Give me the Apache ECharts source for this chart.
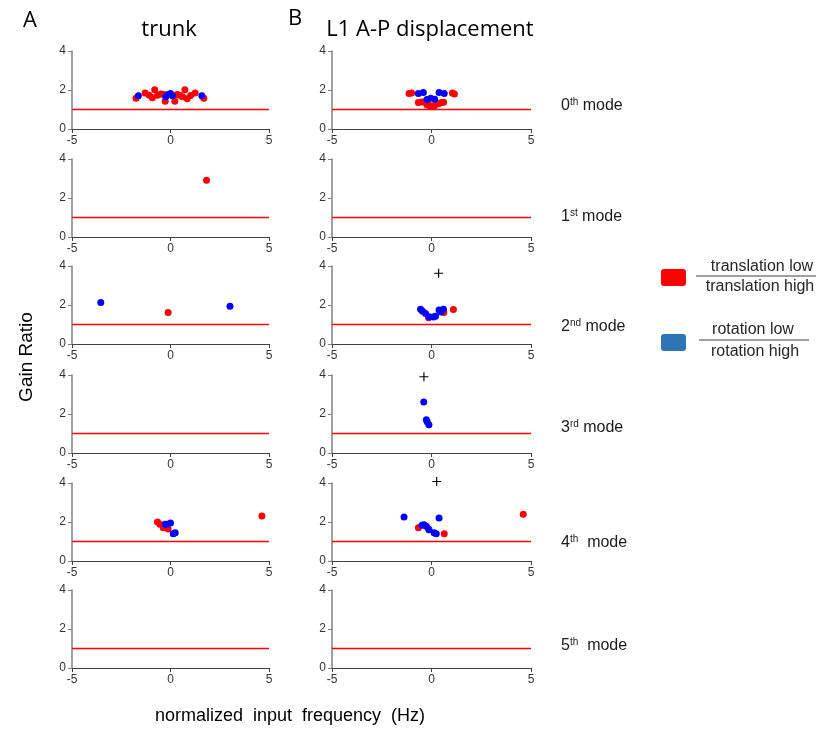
<!DOCTYPE html>
<html>
<head>
<meta charset="utf-8">
<script src="https://cdn.jsdelivr.net/npm/echarts@6/dist/echarts.min.js"></script>
<style>html,body{margin:0;padding:0;background:#fff}#c{width:819px;height:730px}</style>
</head>
<body>
<div id="c"></div>
<script>
// ---- data ----
const xTicks = [-5, 0, 5];
const yTicks = [0, 2, 4];
const refLine = [[-5, 1], [5, 1]];
const modeNames = ['0', '1', '2', '3', '4', '5'];
const modeSup = ['th', 'st', 'nd', 'rd', 'th', 'th'];
const columnTitles = ['trunk', 'L1 A-P displacement'];

// trunk (column A)
const trunk0Red = [[-1.75,1.58],[-1.29,1.85],[-1.08,1.73],[-0.92,1.60],[-0.80,2.01],[-0.66,1.73],[-0.49,1.79],[-0.34,1.77],[-0.27,1.42],[0.22,1.42],[0.34,1.77],[0.47,1.73],[0.61,1.65],[0.73,2.01],[0.85,1.55],[1.02,1.72],[1.25,1.85],[1.69,1.58]];
const trunk0Blue = [[-1.63,1.70],[-0.24,1.65],[-0.12,1.77],[0.0,1.82],[0.10,1.70],[1.59,1.70]];
const trunk1Red = [[1.83,2.91]];
const trunk1Blue = [];
const trunk2Red = [[-0.12,1.62]];
const trunk2Blue = [[-3.54,2.13],[3.02,1.94]];
const trunk3Red = [];
const trunk3Blue = [];
const trunk4Red = [[-0.66,2.0],[-0.54,1.88],[-0.37,1.71],[-0.12,1.64],[4.64,2.31]];
const trunk4Blue = [[-0.27,1.88],[-0.17,1.88],[0.0,1.95],[0.14,1.40],[0.24,1.45]];
const trunk5Red = [];
const trunk5Blue = [];

// L1 A-P displacement (column B)
const l1Mode0Red = [[-1.13,1.82],[-1.0,1.85],[-0.66,1.36],[-0.50,1.38],[-0.36,1.39],[-0.23,1.25],[-0.10,1.20],[-0.04,1.18],[0.10,1.18],[0.16,1.20],[0.36,1.30],[0.50,1.36],[0.61,1.37],[1.05,1.85],[1.15,1.80]];
const l1Mode0Blue = [[-0.66,1.82],[-0.41,1.87],[-0.23,1.51],[-0.04,1.58],[0.16,1.53],[0.38,1.87],[0.64,1.82]];
const l1Mode1Red = [];
const l1Mode1Blue = [];
const l1Mode2Red = [[-0.15,1.35],[0.62,1.62],[1.10,1.77]];
const l1Mode2Blue = [[-0.55,1.78],[-0.45,1.68],[-0.30,1.57],[-0.12,1.40],[0.10,1.39],[0.20,1.42],[0.38,1.75],[0.60,1.78],[0.48,1.64]];
const l1Mode2Plus = [[0.36,3.63]];
const l1Mode3Blue = [[-0.39,2.61],[-0.26,1.71],[-0.21,1.59],[-0.13,1.45]];
const l1Mode3Plus = [[-0.38,3.91]];
const l1Mode4Red = [[-0.66,1.71],[-0.14,1.64],[0.64,1.40],[4.61,2.40]];
const l1Mode4Blue = [[-1.38,2.26],[-0.48,1.83],[-0.38,1.86],[-0.26,1.78],[-0.13,1.60],[0.13,1.45],[0.24,1.40],[0.38,2.21]];
const l1Mode4Plus = [[0.26,4.08]];
const l1Mode5Red = [];
const l1Mode5Blue = [];

const panels = [
  [ {red: trunk0Red, blue: trunk0Blue, plus: []},
    {red: trunk1Red, blue: trunk1Blue, plus: []},
    {red: trunk2Red, blue: trunk2Blue, plus: []},
    {red: trunk3Red, blue: trunk3Blue, plus: []},
    {red: trunk4Red, blue: trunk4Blue, plus: []},
    {red: trunk5Red, blue: trunk5Blue, plus: []} ],
  [ {red: l1Mode0Red, blue: l1Mode0Blue, plus: []},
    {red: l1Mode1Red, blue: l1Mode1Blue, plus: []},
    {red: l1Mode2Red, blue: l1Mode2Blue, plus: l1Mode2Plus},
    {red: [], blue: l1Mode3Blue, plus: l1Mode3Plus},
    {red: l1Mode4Red, blue: l1Mode4Blue, plus: l1Mode4Plus},
    {red: l1Mode5Red, blue: l1Mode5Blue, plus: []} ]
];

// ---- layout ----
const rowTop = [51, 159, 266, 375, 483, 590];
const rowH = 78;
const colLeft = [72, 332];
const colW = [197, 199];
const modeLabelY = [106, 217, 327, 428, 543, 646];

const TICK_FONT = 'Liberation Sans';
const PLUS = 'path://M3.5,0h1v8h-1z M0,3.5h8v1h-8z';

const grid = [], xAxis = [], yAxis = [], series = [];
let gi = 0;
for (let c = 0; c < 2; c++) {
  for (let r = 0; r < 6; r++) {
    grid.push({left: colLeft[c], top: rowTop[r], width: colW[c], height: rowH, containLabel: false});
    xAxis.push({
      gridIndex: gi, type: 'value', min: xTicks[0], max: xTicks[xTicks.length - 1], interval: 5,
      axisLine: {onZero: false, lineStyle: {color: '#404040', width: 1}},
      axisTick: {show: true, length: 4, lineStyle: {color: '#404040'}},
      axisLabel: {margin: 6, fontFamily: TICK_FONT, fontSize: 12, color: '#333'},
      splitLine: {show: false}
    });
    yAxis.push({
      gridIndex: gi, type: 'value', min: yTicks[0], max: yTicks[yTicks.length - 1], interval: 2,
      axisLine: {show: true, onZero: false, lineStyle: {color: '#808080', width: 1.5}},
      axisTick: {show: true, length: 4, lineStyle: {color: '#808080'}},
      axisLabel: {margin: 6, fontFamily: TICK_FONT, fontSize: 12, color: '#333'},
      splitLine: {show: false}
    });
    const p = panels[c][r];
    series.push({type: 'line', xAxisIndex: gi, yAxisIndex: gi, data: refLine.map(q => q.slice()), symbol: 'none',
      color: '#ff0000', lineStyle: {color: '#ff0000', width: 1.3, opacity: 1}, silent: true, animation: false, z: 5});
    series.push({type: 'scatter', xAxisIndex: gi, yAxisIndex: gi, data: p.red, symbolSize: 7,
      itemStyle: {color: '#ff0000', opacity: 1}, clip: false, animation: false, z: 6});
    series.push({type: 'scatter', xAxisIndex: gi, yAxisIndex: gi, data: p.blue, symbolSize: 7,
      itemStyle: {color: '#0000ff', opacity: 1}, clip: false, animation: false, z: 7});
    series.push({type: 'scatter', xAxisIndex: gi, yAxisIndex: gi, data: p.plus, symbol: PLUS, symbolSize: 9,
      itemStyle: {color: '#000', opacity: 1}, clip: false, animation: false, z: 8});
    gi++;
  }
}

const graphic = [];
// panel letters and titles
const TITLE_FONT = '"Open Sans"';
graphic.push({type: 'text', x: 30, y: 21, style: {text: 'A', font: '22px ' + TITLE_FONT, fill: '#000', align: 'center', verticalAlign: 'middle'}});
graphic.push({type: 'text', x: 295, y: 19, style: {text: 'B', font: '22px ' + TITLE_FONT, fill: '#000', align: 'center', verticalAlign: 'middle'}});
graphic.push({type: 'text', x: 169, y: 30, style: {text: columnTitles[0], font: '22px ' + TITLE_FONT, fill: '#000', align: 'center', verticalAlign: 'middle'}});
graphic.push({type: 'text', x: 430, y: 30, style: {text: columnTitles[1], font: '22px ' + TITLE_FONT, fill: '#000', align: 'center', verticalAlign: 'middle'}});
// mode labels
for (let r = 0; r < 6; r++) {
  const gap = (r >= 4) ? '  ' : ' ';
  graphic.push({type: 'text', x: 561, y: modeLabelY[r], style: {
    text: '{n|' + modeNames[r] + '}{s|' + modeSup[r] + '}{n|' + gap + 'mode}',
    verticalAlign: 'middle',
    rich: {
      n: {fontSize: 16, fontFamily: TICK_FONT, fill: '#1a1a1a', lineHeight: 18},
      s: {fontSize: 10, fontFamily: TICK_FONT, fill: '#1a1a1a', verticalAlign: 'top', lineHeight: 18, padding: [0, 0, 8, 0]}
    }
  }});
}
// y-axis name
graphic.push({type: 'text', x: 27, y: 357, rotation: Math.PI / 2, style: {text: 'Gain Ratio', font: '19px "Liberation Sans"', fill: '#000', align: 'center', verticalAlign: 'middle'}});
// x-axis name
graphic.push({type: 'text', x: 290, y: 716, style: {text: 'normalized  input  frequency  (Hz)', font: '18px "Liberation Sans"', fill: '#000', align: 'center', verticalAlign: 'middle'}});
// legend
graphic.push({type: 'rect', shape: {x: 661, y: 269, width: 25, height: 17, r: 3}, style: {fill: '#ff0000'}});
graphic.push({type: 'rect', shape: {x: 661, y: 334, width: 25, height: 17, r: 3}, style: {fill: '#2e75b6'}});
graphic.push({type: 'text', x: 762, y: 267, style: {text: 'translation low', font: '16px "Liberation Sans"', fill: '#262626', align: 'center', verticalAlign: 'middle'}});
graphic.push({type: 'line', shape: {x1: 696, y1: 276, x2: 816, y2: 276}, style: {stroke: '#7f7f7f', lineWidth: 1.5}});
graphic.push({type: 'text', x: 760, y: 287, style: {text: 'translation high', font: '16px "Liberation Sans"', fill: '#262626', align: 'center', verticalAlign: 'middle'}});
graphic.push({type: 'text', x: 753, y: 330, style: {text: 'rotation low', font: '16px "Liberation Sans"', fill: '#262626', align: 'center', verticalAlign: 'middle'}});
graphic.push({type: 'line', shape: {x1: 699, y1: 340, x2: 809, y2: 340}, style: {stroke: '#7f7f7f', lineWidth: 1.5}});
graphic.push({type: 'text', x: 755, y: 352, style: {text: 'rotation high', font: '16px "Liberation Sans"', fill: '#262626', align: 'center', verticalAlign: 'middle'}});

const chart = echarts.init(document.getElementById('c'), null, {renderer: 'canvas'});
chart.setOption({animation: false, backgroundColor: '#fff', grid, xAxis, yAxis, series, graphic});
</script>
</body>
</html>
